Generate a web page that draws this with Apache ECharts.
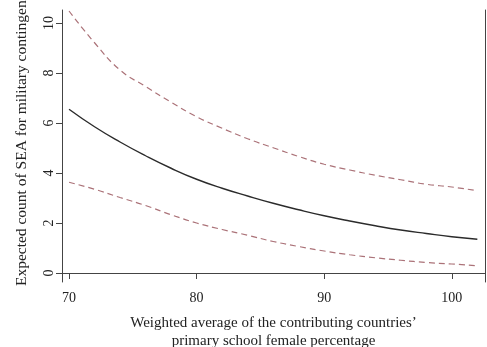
<!DOCTYPE html>
<html>
<head>
<meta charset="utf-8">
<script src="https://cdn.jsdelivr.net/npm/echarts@6/dist/echarts.min.js"></script>
<style>
  html, body { margin: 0; padding: 0; background: #fff; }
  #chart { width: 487px; height: 347px; }
</style>
</head>
<body>
<div id="chart"></div>
<script>
// x values (weighted average female %)
var xs = [70, 72, 74, 76, 78, 80, 82, 84, 86, 88, 90, 92, 94, 96, 98, 100, 102];
var fitted = [6.55, 5.85, 5.24, 4.69, 4.19, 3.75, 3.39, 3.08, 2.79, 2.53, 2.29, 2.08, 1.89, 1.72, 1.58, 1.45, 1.35];
var upper  = [10.48, 9.21, 8.12, 7.46, 6.83, 6.25, 5.79, 5.37, 5.01, 4.66, 4.35, 4.12, 3.91, 3.73, 3.55, 3.44, 3.29];
var lower  = [3.63, 3.35, 3.02, 2.7, 2.33, 2.0, 1.74, 1.51, 1.26, 1.06, 0.88, 0.73, 0.61, 0.51, 0.42, 0.36, 0.29];
var xTicks = [70, 80, 90, 100];
var yTicks = [0, 2, 4, 6, 8, 10];

var pairs = function (ys) {
  var res = [];
  for (var i = 0; i < xs.length; i++) {
    res.push([xs[i], ys[i]]);
  }
  return res;
};

var serif = 'Liberation Serif';
var axisColor = '#444';
var ciColor = '#ab7278';

var myChart = echarts.init(document.getElementById('chart'));
var option = {
  backgroundColor: '#fff',
  animation: false,
  grid: { left: 62, right: 2, top: 10, bottom: 65, containLabel: false, outerBoundsMode: 'none' },
  xAxis: {
    type: 'value',
    min: 69.45,
    max: 102.6,
    name: 'Weighted average of the contributing countries\u2019\nprimary school female percentage',
    nameLocation: 'middle',
    nameGap: 32,
    nameTextStyle: { fontFamily: serif, fontSize: 15, color: '#222', lineHeight: 18 },
    axisLine: { show: true, lineStyle: { color: axisColor, width: 1 } },
    axisTick: { show: true, length: 6, customValues: xTicks, lineStyle: { color: axisColor } },
    axisLabel: { customValues: xTicks, fontFamily: serif, fontSize: 14, color: '#222', margin: 9 },
    splitLine: { show: false }
  },
  yAxis: [
    {
      type: 'value',
      min: -0.36,
      max: 10.52,
      name: 'Expected count of SEA for military contingents',
      nameLocation: 'middle',
      nameGap: 32,
      nameRotate: 90,
      nameTextStyle: { fontFamily: serif, fontSize: 15.5, color: '#222', padding: [0, 0, 0, 16] },
      axisLine: { show: true, lineStyle: { color: axisColor, width: 1 } },
      axisTick: { show: true, length: 6, customValues: yTicks, lineStyle: { color: axisColor } },
      axisLabel: { customValues: yTicks, rotate: 90, fontFamily: serif, fontSize: 14, color: '#222', margin: 6 },
      splitLine: { show: false }
    },
    {
      type: 'value',
      position: 'right',
      min: -0.36,
      max: 10.52,
      axisLine: { show: true, lineStyle: { color: axisColor, width: 1 } },
      axisTick: { show: false },
      axisLabel: { show: false },
      splitLine: { show: false }
    }
  ],
  series: [
    {
      name: 'upper',
      type: 'line',
      data: pairs(upper),
      smooth: true,
      showSymbol: false,
      lineStyle: { color: ciColor, width: 1.2, type: [6, 4] }
    },
    {
      name: 'fitted',
      type: 'line',
      data: pairs(fitted),
      smooth: true,
      showSymbol: false,
      lineStyle: { color: '#2b2b2b', width: 1.4 }
    },
    {
      name: 'lower',
      type: 'line',
      data: pairs(lower),
      smooth: true,
      showSymbol: false,
      lineStyle: { color: ciColor, width: 1.2, type: [6, 4] }
    }
  ]
};
myChart.setOption(option);
</script>
</body>
</html>
